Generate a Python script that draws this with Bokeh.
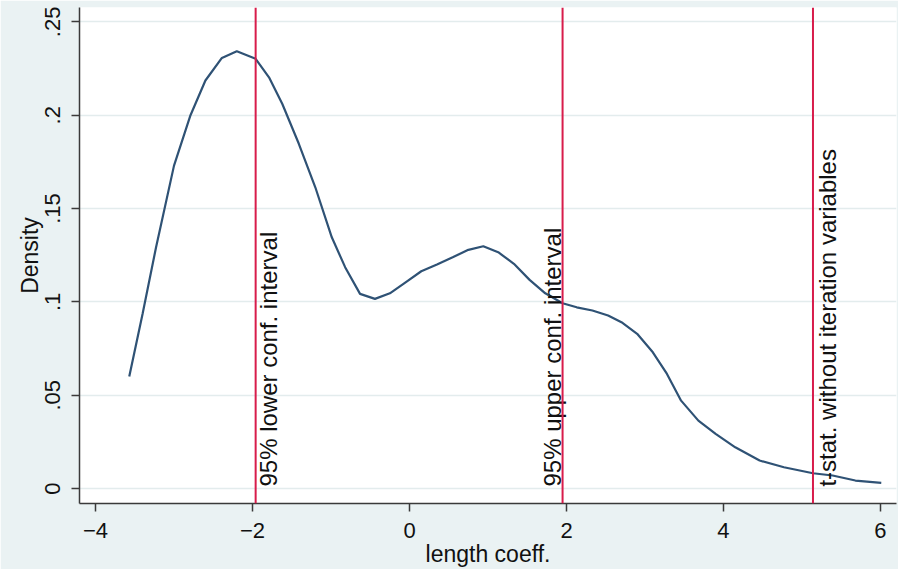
import math
from bokeh.plotting import figure
from bokeh.models import FixedTicker, Span, Range1d
from bokeh.core.properties import value
from bokeh.embed import file_html
from bokeh.resources import INLINE

# Kernel density of the length coefficient
coef_x = [-3.57, -3.40, -3.23, -3.00, -2.79, -2.60, -2.39, -2.20, -1.96, -1.79,
          -1.62, -1.41, -1.20, -0.99, -0.82, -0.63, -0.44, -0.25, -0.05, 0.15,
          0.35, 0.55, 0.75, 0.94, 1.13, 1.33, 1.53, 1.73, 1.95, 2.13,
          2.33, 2.53, 2.70, 2.90, 3.10, 3.28, 3.46, 3.68, 3.90, 4.15,
          4.46, 4.77, 5.14, 5.39, 5.68, 6.01]
density = [0.060, 0.0936, 0.129, 0.173, 0.200, 0.2186, 0.2307, 0.2343, 0.2302, 0.2203,
           0.206, 0.1847, 0.1614, 0.1346, 0.1186, 0.1043, 0.1016, 0.1046, 0.1105, 0.1164,
           0.120, 0.1239, 0.1279, 0.1298, 0.1266, 0.1204, 0.1118, 0.1046, 0.0993, 0.0971,
           0.0954, 0.0927, 0.0891, 0.0829, 0.0730, 0.0614, 0.0471, 0.0364, 0.0293, 0.0221,
           0.0150, 0.0114, 0.0082, 0.0070, 0.0043, 0.0030]

vline_x = [-1.96, 1.95, 5.14]
vline_labels = ["95% lower conf. interval", "95% upper conf. interval",
                "t-stat. without iteration variables"]

x_ticks = [-4, -2, 0, 2, 4, 6]
y_ticks = [0, 0.05, 0.1, 0.15, 0.2, 0.25]
y_tick_labels = ["0", ".05", ".1", ".15", ".2", ".25"]

FONT = "Liberation Sans"
BG = "#EAF2F3"
NAVY = "#2f5275"
RED = "#d81c4b"
TXT = "#111111"

p = figure(width=898, height=569, x_range=Range1d(-4.204, 6.204),
           y_range=Range1d(-0.008, 0.2577), output_backend="svg",
           toolbar_location=None, background_fill_color="white",
           border_fill_color=BG, min_border_left=79, min_border_right=2,
           min_border_top=7, min_border_bottom=66, outline_line_color=None)
p.title.visible = False

p.line(coef_x, density, line_color=NAVY, line_width=2.2)

for xv in vline_x:
    p.add_layout(Span(location=xv, dimension="height", line_color=RED, line_width=2))

# labels next to the lines
p.text(x=[vline_x[0]], y=[0], text=[vline_labels[0]], angle=math.pi / 2,
       text_align="left", text_baseline="top", x_offset=-1, y_offset=-2,
       text_font=value(FONT), text_font_size="24px", text_color=TXT)
p.text(x=[vline_x[1]], y=[0], text=[vline_labels[1]], angle=math.pi / 2,
       text_align="left", text_baseline="bottom", x_offset=3, y_offset=-2,
       text_font=value(FONT), text_font_size="24px", text_color=TXT)
p.text(x=[vline_x[2]], y=[0], text=[vline_labels[2]], angle=math.pi / 2,
       text_align="left", text_baseline="top", x_offset=1, y_offset=-2,
       text_font=value(FONT), text_font_size="24px", text_color=TXT)

p.xgrid.visible = False
p.ygrid.grid_line_color = "#E3ECED"
p.ygrid.grid_line_width = 1.5

p.xaxis.ticker = FixedTicker(ticks=x_ticks)
p.yaxis.ticker = FixedTicker(ticks=y_ticks)
p.yaxis.major_label_overrides = {t: l for t, l in zip(y_ticks, y_tick_labels)}
p.yaxis.major_label_orientation = "vertical"

p.xaxis.axis_label = "length coeff."
p.yaxis.axis_label = "Density"

for ax in (p.xaxis[0], p.yaxis[0]):
    ax.axis_line_color = "#3a3a3a"
    ax.axis_line_width = 1.5
    ax.major_tick_line_color = "#3a3a3a"
    ax.major_tick_line_width = 1.5
    ax.major_tick_out = 8
    ax.major_tick_in = 0
    ax.minor_tick_line_color = None
    ax.major_label_text_font = FONT
    ax.major_label_text_font_size = "22px"
    ax.major_label_text_color = TXT
    ax.axis_label_text_font = FONT
    ax.axis_label_text_font_size = "23px"
    ax.axis_label_text_font_style = "normal"
    ax.axis_label_text_color = TXT

p.xaxis.major_label_standoff = 11
p.xaxis.axis_label_standoff = 0
p.yaxis.major_label_standoff = 11
p.yaxis.axis_label_standoff = 0

open("out.html", "w").write(file_html(p, INLINE))
